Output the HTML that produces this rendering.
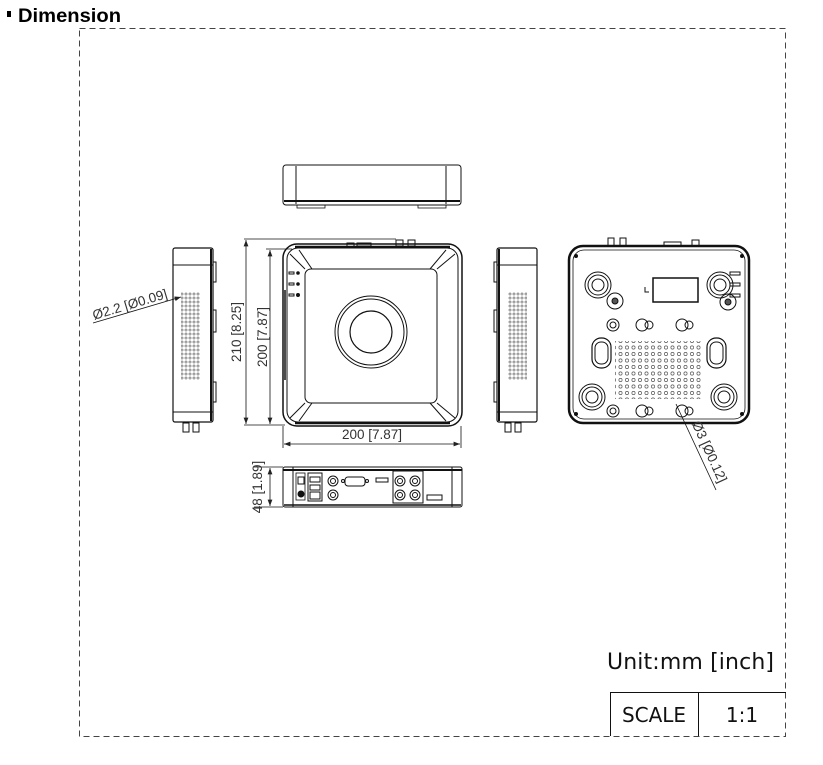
<!DOCTYPE html>
<html><head><meta charset="utf-8"><style>
html,body{margin:0;padding:0;background:#fff;}
svg{display:block;font-family:"Liberation Sans",sans-serif;}
</style></head><body>
<svg width="823" height="765" viewBox="0 0 823 765" xmlns="http://www.w3.org/2000/svg">
<defs>
<pattern id="dots" x="0" y="0" width="4" height="4" patternUnits="userSpaceOnUse">
<circle cx="2" cy="2" r="1.1" fill="none" stroke="#555" stroke-width="0.6"/>
</pattern>
<pattern id="dots2" x="0" y="0" width="6.5" height="6.5" patternUnits="userSpaceOnUse">
<circle cx="3" cy="3" r="1.6" fill="none" stroke="#555" stroke-width="0.7"/>
</pattern>
<marker id="ar" markerWidth="8" markerHeight="6" refX="8" refY="3" orient="auto-start-reverse"><path d="M0,0 L8,3 L0,6 z" fill="#222"/></marker>
</defs>
<rect width="823" height="765" fill="#fff"/>
<!-- title -->
<rect x="7" y="11" width="4" height="6" fill="#000"/>
<text x="18" y="22" font-size="19" font-weight="bold" fill="#000" textLength="103" lengthAdjust="spacingAndGlyphs">Dimension</text>
<!-- dashed frame -->
<rect x="79.5" y="28.5" width="706" height="708" fill="none" stroke="#444" stroke-width="1" stroke-dasharray="6,4"/>

<g stroke="#111" fill="none">
<!-- top view -->
<rect x="283" y="165" width="178" height="40" rx="3" stroke-width="1"/>
<line x1="296" y1="166" x2="296" y2="204"/><line x1="446" y1="166" x2="446" y2="204"/>
<line x1="284" y1="201" x2="460" y2="201" stroke-width="2"/>
<rect x="297" y="205" width="28" height="3" stroke-width="0.8"/>
<rect x="418" y="205" width="28" height="3" stroke-width="0.8"/>

<!-- left side -->
<rect x="173" y="248" width="40" height="174" rx="2" stroke-width="1.2"/>
<line x1="173" y1="265" x2="213" y2="265"/><line x1="173" y1="412" x2="213" y2="412"/>
<line x1="211" y1="249" x2="211" y2="421" stroke-width="2"/>
<rect x="213" y="262" width="3" height="20"/><rect x="213" y="310" width="3" height="22"/><rect x="213" y="382" width="3" height="20"/>
<rect x="183" y="423" width="6" height="9"/><rect x="193" y="423" width="6" height="9"/>
<rect x="181" y="292" width="19" height="88" fill="url(#dots)" stroke="none"/>

<!-- right side -->
<rect x="497" y="248" width="40" height="174" rx="2" stroke-width="1.2"/>
<line x1="497" y1="265" x2="537" y2="265"/><line x1="497" y1="412" x2="537" y2="412"/>
<line x1="499" y1="249" x2="499" y2="421" stroke-width="2"/>
<rect x="494" y="262" width="3" height="20"/><rect x="494" y="310" width="3" height="22"/><rect x="494" y="382" width="3" height="20"/>
<rect x="505" y="423" width="6" height="9"/><rect x="515" y="423" width="6" height="9"/>
<rect x="508" y="292" width="19" height="88" fill="url(#dots)" stroke="none"/>

<!-- front view -->
<rect x="283" y="244" width="179" height="182" rx="14" stroke-width="1.5"/>
<rect x="287" y="248" width="171" height="174" rx="11" stroke-width="1"/>
<line x1="295" y1="247" x2="450" y2="247" stroke-width="2.5"/>
<line x1="295" y1="423" x2="450" y2="423" stroke-width="2.5"/>
<rect x="305" y="269" width="132" height="134" rx="6"/>
<line x1="290" y1="254" x2="305" y2="269"/><line x1="299" y1="250" x2="312" y2="269"/>
<line x1="455" y1="254" x2="437" y2="269"/><line x1="446" y1="250" x2="430" y2="269"/>
<line x1="290" y1="418" x2="305" y2="403"/><line x1="299" y1="421" x2="312" y2="403"/>
<line x1="455" y1="418" x2="437" y2="403"/><line x1="446" y1="421" x2="430" y2="403"/>
<circle cx="371" cy="332" r="36"/><circle cx="371" cy="332" r="33"/><circle cx="371" cy="332" r="21" stroke-width="1.2"/>
<rect x="347" y="243" width="7" height="4"/><rect x="357" y="243" width="14" height="3"/>
<rect x="396" y="240" width="7" height="6"/><rect x="408" y="240" width="7" height="6"/>
<rect x="289" y="272" width="5" height="2"/><rect x="289" y="283" width="5" height="2"/><rect x="289" y="294" width="5" height="2"/>
<circle cx="298" cy="273" r="1.3" fill="#111"/><circle cx="298" cy="284" r="1.3" fill="#111"/><circle cx="298" cy="295" r="1.5" fill="#111"/>
<line x1="285" y1="290" x2="285" y2="380" stroke-width="1.5"/>

<!-- dims front -->
<line x1="244" y1="239" x2="396" y2="239" stroke-width="0.8"/>
<line x1="244" y1="425" x2="285" y2="425" stroke-width="0.8"/>
<line x1="266" y1="249" x2="292" y2="249" stroke-width="0.8"/>
<line x1="246" y1="240" x2="246" y2="424" stroke-width="0.8" marker-start="url(#ar)" marker-end="url(#ar)"/>
<line x1="270" y1="250" x2="270" y2="424" stroke-width="0.8" marker-start="url(#ar)" marker-end="url(#ar)"/>
<line x1="283" y1="426" x2="283" y2="448" stroke-width="0.8"/><line x1="461" y1="426" x2="461" y2="448" stroke-width="0.8"/>
<line x1="284" y1="444" x2="460" y2="444" stroke-width="0.8" marker-start="url(#ar)" marker-end="url(#ar)"/>

<!-- leader left -->
<line x1="93" y1="323" x2="181" y2="297" stroke-width="0.8" marker-end="url(#ar)"/>

<!-- back view -->
<rect x="569" y="246" width="180" height="177" rx="14" stroke-width="2.5"/>
<rect x="573" y="250" width="172" height="169" rx="11" stroke-width="0.8"/>
<rect x="608" y="238" width="6" height="8"/><rect x="620" y="238" width="6" height="8"/>
<rect x="664" y="242" width="17" height="4"/><rect x="692" y="240" width="7" height="6"/>
<circle cx="576" cy="256" r="1.5" fill="#111"/><circle cx="742" cy="256" r="1.5" fill="#111"/>
<circle cx="576" cy="414" r="1.5" fill="#111"/><circle cx="742" cy="414" r="1.5" fill="#111"/>
<rect x="730" y="272" width="10" height="3"/><rect x="730" y="283" width="10" height="3"/><rect x="730" y="294" width="10" height="3"/>
<g>
<circle cx="598" cy="285" r="13"/><circle cx="598" cy="285" r="10"/><circle cx="598" cy="285" r="6"/>
<circle cx="720" cy="285" r="13"/><circle cx="720" cy="285" r="10"/><circle cx="720" cy="285" r="6"/>
<circle cx="592" cy="397" r="13"/><circle cx="592" cy="397" r="10"/><circle cx="592" cy="397" r="6"/>
<circle cx="724" cy="397" r="13"/><circle cx="724" cy="397" r="10"/><circle cx="724" cy="397" r="6"/>
<circle cx="615" cy="301" r="8"/><circle cx="615" cy="301" r="3" fill="#555"/>
<circle cx="728" cy="302" r="8"/><circle cx="728" cy="302" r="3" fill="#555"/>
<circle cx="613" cy="325" r="6"/><circle cx="613" cy="325" r="3"/>
<circle cx="613" cy="411" r="6"/><circle cx="613" cy="411" r="3"/>
<circle cx="642" cy="325" r="6"/><circle cx="649" cy="325" r="4"/>
<circle cx="682" cy="325" r="6"/><circle cx="689" cy="325" r="4"/>
<circle cx="642" cy="411" r="6"/><circle cx="649" cy="411" r="4"/>
<circle cx="682" cy="411" r="6"/><circle cx="689" cy="411" r="4"/>
</g>
<rect x="653" y="278" width="45" height="24" stroke-width="1.5"/>
<path d="M645 287 v5 h4"/>
<rect x="592" y="338" width="19" height="30" rx="9" stroke-width="1.2"/><rect x="595" y="342" width="13" height="22" rx="6"/>
<rect x="707" y="338" width="19" height="30" rx="9" stroke-width="1.2"/><rect x="710" y="342" width="13" height="22" rx="6"/>
<rect x="615" y="341" width="86" height="58" fill="url(#dots2)" stroke="none"/>
<line x1="676" y1="404" x2="716" y2="490" stroke-width="0.8"/>

<!-- rear view -->
<rect x="283" y="467" width="179" height="40" rx="2" stroke-width="1"/>
<line x1="283" y1="470" x2="462" y2="470" stroke-width="2"/>
<line x1="293" y1="467" x2="293" y2="507"/><line x1="452" y1="467" x2="452" y2="507"/>
<line x1="284" y1="505" x2="461" y2="505" stroke-width="1.5"/>
<rect x="296" y="473" width="9" height="27" stroke-width="0.8"/>
<rect x="298" y="477" width="6" height="7"/><circle cx="301" cy="494" r="3" fill="#111"/>
<rect x="308" y="473" width="14" height="28"/><rect x="310" y="477" width="10" height="5"/><rect x="310" y="485" width="10" height="5"/><rect x="310" y="492" width="10" height="7"/>
<circle cx="333" cy="481" r="5"/><circle cx="333" cy="481" r="2.5"/>
<circle cx="333" cy="495" r="5"/><circle cx="333" cy="495" r="2.5"/>
<rect x="345" y="477" width="20" height="9" rx="3"/><circle cx="343" cy="481" r="1.5"/><circle cx="367" cy="481" r="1.5"/>
<rect x="376" y="478" width="12" height="4"/>
<rect x="393" y="471" width="30" height="32"/>
<circle cx="400" cy="481" r="5"/><circle cx="400" cy="481" r="2.5"/><circle cx="415" cy="481" r="5"/><circle cx="415" cy="481" r="2.5"/>
<circle cx="400" cy="495" r="5"/><circle cx="400" cy="495" r="2.5"/><circle cx="415" cy="495" r="5"/><circle cx="415" cy="495" r="2.5"/>
<rect x="427" y="495" width="15" height="5"/>
<line x1="254" y1="467" x2="283" y2="467" stroke-width="0.8"/><line x1="254" y1="507" x2="283" y2="507" stroke-width="0.8"/>
<line x1="270" y1="468" x2="270" y2="506" stroke-width="0.8" marker-start="url(#ar)" marker-end="url(#ar)"/>

<!-- scale table -->
<line x1="610" y1="692.5" x2="786" y2="692.5"/>
<line x1="610.5" y1="692" x2="610.5" y2="736"/>
<line x1="698.5" y1="692" x2="698.5" y2="736"/>
</g>

<g fill="#333" font-size="13.5">
<text x="237" y="332" text-anchor="middle" transform="rotate(-90 237 332)" dy="4">210 [8.25]</text>
<text x="263" y="337" text-anchor="middle" transform="rotate(-90 263 337)" dy="4">200 [7.87]</text>
<text x="372" y="439" text-anchor="middle">200 [7.87]</text>
<text x="258" y="487" text-anchor="middle" transform="rotate(-90 258 487)" dy="4">48 [1.89]</text>
<text x="130" y="305" text-anchor="middle" transform="rotate(-16.6 130 305)" dy="4">Ø2.2 [Ø0.09]</text>
<text x="709" y="452" text-anchor="middle" transform="rotate(65.4 709 452)" dy="4">Ø3 [Ø0.12]</text>
</g>
<text x="607" y="669" font-size="22" fill="#111" font-family="'DejaVu Sans',sans-serif" textLength="167">Unit:mm [inch]</text>
<text x="654" y="722" font-size="20" fill="#111" text-anchor="middle" font-family="'DejaVu Sans',sans-serif">SCALE</text>
<text x="742" y="722" font-size="20" fill="#111" text-anchor="middle" font-family="'DejaVu Sans',sans-serif">1:1</text>
</svg>
</body></html>
